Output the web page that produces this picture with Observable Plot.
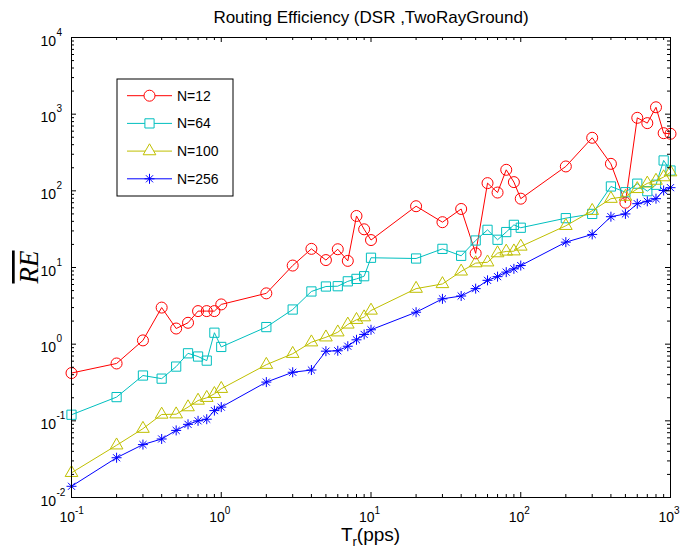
<!DOCTYPE html>
<html>
<head>
<meta charset="utf-8">
<script src="https://cdn.jsdelivr.net/npm/d3@7"></script>
<script src="https://cdn.jsdelivr.net/npm/@observablehq/plot@0.6"></script>
<style>
  html, body { margin: 0; padding: 0; background: #fff; }
  #chart { width: 681px; height: 550px; }
</style>
</head>
<body>
<div id="chart"></div>
<script>
// Packet rate T_r (pps)
const rates = [0.1, 0.2, 0.3, 0.4, 0.5, 0.6, 0.7, 0.8, 0.9,
               1, 2, 3, 4, 5, 6, 7, 8, 9,
               10, 20, 30, 40, 50, 60, 70, 80, 90,
               100, 200, 300, 400, 500, 600, 700, 800, 900,
               1000];

// Mean routing efficiency per network size
const reN12 = [0.42, 0.56, 1.12, 3.0, 1.6, 1.9, 2.7, 2.7, 2.7,
               3.3, 4.6, 10.6, 17.5, 12.5, 17.3, 12.2, 47, 31.5,
               22.8, 63, 39, 58, 15.3, 126, 95, 188, 130,
               79, 208, 492, 225, 70, 896, 764, 1230, 565,
               555];
const reN64 = [0.12, 0.204, 0.39, 0.355, 0.51, 0.76, 0.69, 0.61, 1.41,
               0.92, 1.67, 2.83, 4.87, 5.65, 5.7, 6.6, 7.1, 7.7,
               13.4, 13.1, 17.5, 14.2, 22.5, 31, 23, 29, 36,
               33, 44, 50, 114, 96, 124, 99, 120, 249,
               184];
const reN100 = [0.021, 0.048, 0.079, 0.121, 0.122, 0.151, 0.184, 0.2, 0.225,
                0.262, 0.54, 0.75, 1.06, 1.23, 1.43, 1.81, 2.08, 2.25,
                2.75, 5.3, 6.1, 8.9, 11.4, 11.7, 15.4, 16.2, 16.3,
                18.8, 35, 55, 79, 84, 106, 125, 136, 151,
                175];
const reN256 = [0.014, 0.033, 0.049, 0.058, 0.075, 0.09, 0.1, 0.105, 0.136,
                0.151, 0.32, 0.43, 0.46, 0.81, 0.82, 0.94, 1.14, 1.34,
                1.54, 2.61, 3.9, 4.25, 5.3, 6.8, 7.6, 8.7, 9.6,
                10.6, 21.4, 27, 46, 50, 68, 73, 79, 101,
                110];

const seriesNames = ["N=12", "N=64", "N=100", "N=256"];
const seriesValues = [reN12, reN64, reN100, reN256];

// Axis ticks and their exponent labels
const xTicks = [0.1, 1, 10, 100, 1000];
const xTickExponents = ["-1", "0", "1", "2", "3"];
const yTicks = [0.01, 0.1, 1, 10, 100, 1000, 10000];
const yTickExponents = ["-2", "-1", "0", "1", "2", "3", "4"];

const titleText = "Routing Efficiency (DSR ,TwoRayGround)";

// ---- layout & styling ----
const W = 681, H = 550;
const mL = 71, mR = 11, mT = 37, mB = 53;
const fW = W - mL - mR, fH = H - mT - mB;
const sansFont = "'Liberation Sans', Arial, Helvetica, sans-serif";

// MATLAB-style '*' marker: plus and cross combined
const star8 = {
  draw(ctx, size) {
    const r = Math.sqrt(size / Math.PI);
    const d = r * Math.SQRT1_2;
    ctx.moveTo(0, -r); ctx.lineTo(0, r);
    ctx.moveTo(-r, 0); ctx.lineTo(r, 0);
    ctx.moveTo(-d, -d); ctx.lineTo(d, d);
    ctx.moveTo(-d, d); ctx.lineTo(d, -d);
  }
};

const styles = [
  {color: "#ff0000", symbol: "circle", r: 5.5},
  {color: "#00bfbf", symbol: "square", r: 5.2},
  {color: "#bfbf00", symbol: "triangle", r: 4.7},
  {color: "#0000ff", symbol: star8, r: 5}
];

// minor ticks at 2..9 within each decade
const minorOf = (majors) => majors.slice(0, -1).flatMap(t => d3.range(2, 10).map(k => k * t));
const xMinor = minorOf(xTicks);
const yMinor = minorOf(yTicks);

const seriesMarks = seriesValues.flatMap((vals, i) => {
  const rows = rates.map((x, j) => ({x, y: vals[j]}));
  const s = styles[i];
  return [
    Plot.line(rows, {x: "x", y: "y", stroke: s.color, strokeWidth: 1}),
    Plot.dot(rows, {x: "x", y: "y", symbol: s.symbol, r: s.r, stroke: s.color, fill: "none", strokeWidth: 1})
  ];
});

const chart = Plot.plot({
  width: W, height: H,
  marginLeft: mL, marginRight: mR, marginTop: mT, marginBottom: mB,
  style: {fontFamily: sansFont, background: "#fff", color: "#000", overflow: "visible"},
  x: {type: "log", domain: [0.1, 1000], axis: null},
  y: {type: "log", domain: [0.01, 10000], axis: null},
  marks: [
    ...seriesMarks,
    // inward ticks on all four sides
    Plot.tickX(xTicks, {x: d => d, insetTop: fH - 5, stroke: "#000"}),
    Plot.tickX(xTicks, {x: d => d, insetBottom: fH - 5, stroke: "#000"}),
    Plot.tickX(xMinor, {x: d => d, insetTop: fH - 3, stroke: "#000"}),
    Plot.tickX(xMinor, {x: d => d, insetBottom: fH - 3, stroke: "#000"}),
    Plot.tickY(yTicks, {y: d => d, insetRight: fW - 5, stroke: "#000"}),
    Plot.tickY(yTicks, {y: d => d, insetLeft: fW - 5, stroke: "#000"}),
    Plot.tickY(yMinor, {y: d => d, insetRight: fW - 3, stroke: "#000"}),
    Plot.tickY(yMinor, {y: d => d, insetLeft: fW - 3, stroke: "#000"}),
    Plot.frame({stroke: "#000", strokeWidth: 1}),
    // x tick labels: 10 with superscript exponent
    Plot.text(xTicks, {x: d => d, frameAnchor: "bottom", text: () => "10", textAnchor: "end",
      lineAnchor: "bottom", dx: 3.5, dy: 24, fontSize: 14, fill: "#000"}),
    Plot.text(xTicks, {x: d => d, frameAnchor: "bottom", text: (d, i) => xTickExponents[i], textAnchor: "start",
      lineAnchor: "bottom", dx: 3.5, dy: 16, fontSize: 10, fill: "#000"}),
    // y tick labels
    Plot.text(yTicks, {y: d => d, frameAnchor: "left", text: () => "10", textAnchor: "end",
      lineAnchor: "bottom", dx: -15.5, dy: 8, fontSize: 14, fill: "#000"}),
    Plot.text(yTicks, {y: d => d, frameAnchor: "left", text: (d, i) => yTickExponents[i], textAnchor: "start",
      lineAnchor: "bottom", dx: -15, dy: -2, fontSize: 10, fill: "#000"}),
    // title
    Plot.text([titleText], {frameAnchor: "top", text: d => d, lineAnchor: "bottom", dy: -15,
      fontSize: 17, fill: "#000"})
  ]
});

document.getElementById("chart").appendChild(chart);

const svg = d3.select(chart);

// x-axis label: T_r(pps)
const xl = svg.append("text")
  .attr("x", mL + fW / 2).attr("y", 541)
  .attr("text-anchor", "middle")
  .attr("font-family", sansFont).attr("font-size", 19).attr("fill", "#000");
xl.append("tspan").text("T");
xl.append("tspan").attr("font-size", 13).attr("dy", 5).text("r");
xl.append("tspan").attr("dy", -5).text("(pps)");

// y-axis label: overlined RE in italic serif
svg.append("text")
  .attr("transform", `translate(38,${mT + fH / 2}) rotate(-90)`)
  .attr("text-anchor", "middle")
  .attr("font-family", "'Liberation Serif', 'Times New Roman', serif")
  .attr("font-style", "italic")
  .attr("font-size", 27)
  .style("text-decoration", "overline")
  .attr("fill", "#000")
  .text("RE");

// legend
const lg = svg.append("g").attr("text-anchor", "start");
lg.append("rect").attr("x", 117).attr("y", 79).attr("width", 116).attr("height", 117)
  .attr("fill", "#fff").attr("stroke", "#000").attr("stroke-width", 1);
const symbolType = (s) => typeof s === "string"
  ? {circle: d3.symbolCircle, square: d3.symbolSquare, triangle: d3.symbolTriangle}[s]
  : s;
seriesNames.forEach((name, i) => {
  const y = 95.7 + i * 27.7;
  const s = styles[i];
  lg.append("line").attr("x1", 127).attr("x2", 172).attr("y1", y).attr("y2", y)
    .attr("stroke", s.color).attr("stroke-width", 1);
  lg.append("path")
    .attr("transform", `translate(149.5,${y})`)
    .attr("d", d3.symbol(symbolType(s.symbol), Math.PI * s.r * s.r)())
    .attr("fill", "#fff").attr("stroke", s.color).attr("stroke-width", 1);
  lg.append("text").attr("x", 177).attr("y", y + 5)
    .attr("text-anchor", "start")
    .attr("font-family", sansFont).attr("font-size", 14).attr("fill", "#000")
    .text(name);
});
</script>
</body>
</html>
